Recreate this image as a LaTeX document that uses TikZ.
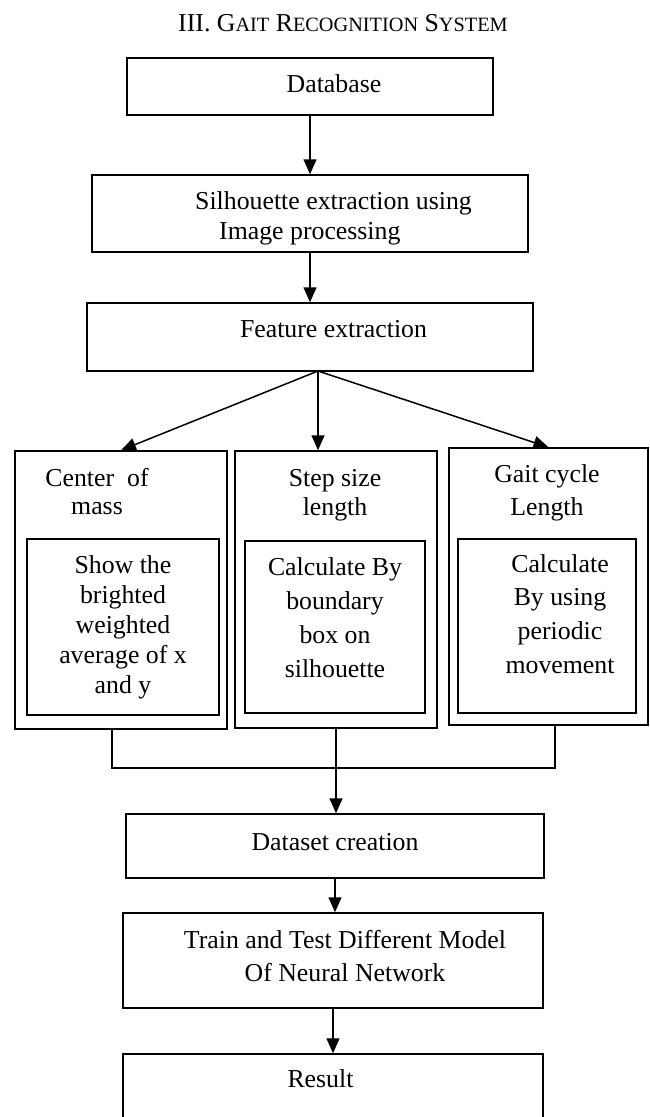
\documentclass[tikz,border=0pt]{standalone}
\usepackage{fontspec}
\setmainfont{Liberation Serif}
\usepackage{tikz}
\usetikzlibrary{arrows.meta}

\newcommand{\smc}[1]{{\fontsize{20.3}{22}\selectfont #1}}
\newcommand{\rows}[3][c]{\fontsize{25.8}{#2}\selectfont\begin{tabular}[t]{@{}#1@{}}#3\end{tabular}}

\tikzset{
	box/.style = {draw, line width=1.5pt, inner sep=0pt},
	wire/.style = {line width=1.5pt},
	arr/.style = {line width=1.5pt, -{Triangle[length=15pt,width=13pt]}},
	lbl/.style = {anchor=base, inner sep=0pt, font=\fontsize{25.8}{30}\selectfont}
}

\begin{document}
\begin{tikzpicture}[x=1pt, y=-1pt]
	\useasboundingbox (0,0) rectangle (650,1117);
	\node[lbl] (title) at (343,31) {III. G\smc{AIT} R\smc{ECOGNITION} S\smc{YSTEM}};
	\node[box, minimum width=366pt, minimum height=57pt] (db) at (310,86.5) {};
	\node[box, minimum width=436pt, minimum height=77pt] (sil) at (310,213.5) {};
	\node[box, minimum width=446pt, minimum height=68pt] (feat) at (310,337) {};
	\node[box, minimum width=212pt, minimum height=278pt] (colA) at (121,590) {};
	\node[box, minimum width=192pt, minimum height=176pt] (inA) at (123,627) {};
	\node[box, minimum width=202pt, minimum height=277pt] (colB) at (336,589.5) {};
	\node[box, minimum width=180pt, minimum height=172pt] (inB) at (335,627) {};
	\node[box, minimum width=199pt, minimum height=277pt] (colC) at (548.5,586.5) {};
	\node[box, minimum width=178pt, minimum height=174pt] (inC) at (547,626) {};
	\node[box, minimum width=418pt, minimum height=64pt] (data) at (335,846) {};
	\node[box, minimum width=420pt, minimum height=95pt] (train) at (333,960.5) {};
	\node[box, minimum width=420pt, minimum height=72pt] (res) at (333,1090) {};
	\node[lbl] (dbtext) at (334,92) {Database};
	\node[lbl, anchor=base west] (siltext) at (195,209) {\rows[l]{30}{Silhouette extraction using\\\hspace*{24pt}Image processing}};
	\node[lbl] (feattext) at (333.5,337) {Feature extraction};
	\node[lbl] (headA) at (97,486) {\rows{28}{Center~ of\\mass}};
	\node[lbl] (headB) at (335,486) {\rows{29}{Step size\\length}};
	\node[lbl] (headC) at (547,482) {\rows{33}{Gait cycle\\Length}};
	\node[lbl] (txtA) at (123,573) {\rows{30}{Show the\\brighted\\weighted\\average of x\\and y}};
	\node[lbl] (txtB) at (335,575) {\rows{34}{Calculate By\\boundary\\box on\\silhouette}};
	\node[lbl] (txtC) at (560,572) {\rows{33.7}{Calculate\\By using\\periodic\\movement}};
	\node[lbl] (datatext) at (335,850) {Dataset creation};
	\node[lbl] (traintext) at (345,948) {\rows{33}{Train and Test Different Model\\Of Neural Network}};
	\node[lbl] (restext) at (320.5,1087) {Result};
	\coordinate (fork) at (318,371);
	\coordinate (joinL) at (112,768);
	\coordinate (joinR) at (555,768);
	\draw[arr] (db.south) -- (db.south |- sil.north);
	\draw[arr] (sil.south) -- (sil.south |- feat.north);
	\draw[arr] (fork) -- (colA.north);
	\draw[arr] (fork) -- (fork |- colB.north);
	\draw[arr] (fork) -- (colC.north);
	\draw[wire] (colA.south -| joinL) -- (joinL) -- (joinR) -- (colC.south -| joinR);
	\draw[arr] (colB.south) -- (colB.south |- data.north);
	\draw[arr] (data.south) -- (data.south |- train.north);
	\draw[arr] (train.south) -- (res.north);
\end{tikzpicture}
\end{document}
